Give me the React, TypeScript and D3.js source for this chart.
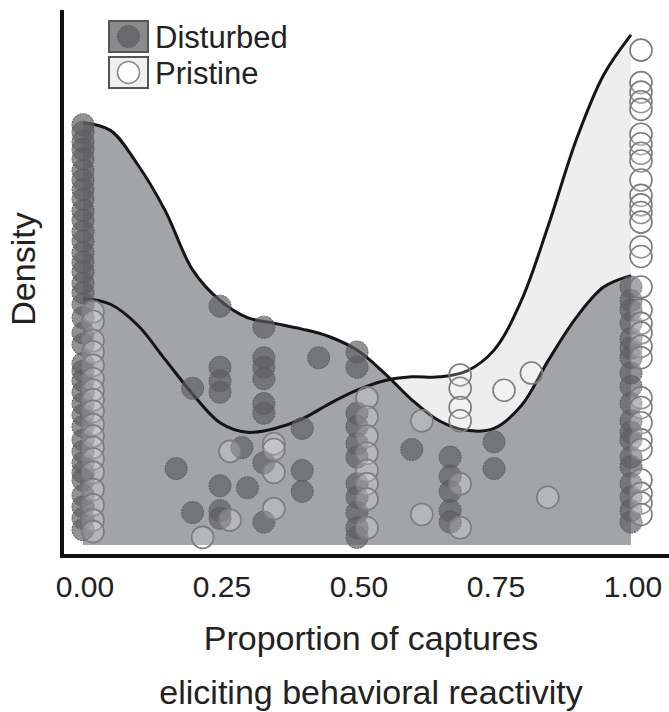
import React, { useEffect } from 'react';
import * as d3 from 'd3';

// density curves sampled along the proportion axis
const gridX = [0, 0.05, 0.1, 0.15, 0.2, 0.25, 0.3, 0.35, 0.4, 0.45, 0.5, 0.55, 0.6, 0.65, 0.7, 0.75, 0.8, 0.85, 0.9, 0.95, 1];
const disturbedDensity = [2.21, 2.17, 1.99, 1.75, 1.44, 1.28, 1.19, 1.16, 1.13, 1.09, 1.02, 0.9, 0.76, 0.65, 0.6, 0.61, 0.73, 0.97, 1.19, 1.35, 1.41];
const pristineDensity = [1.29, 1.26, 1.15, 0.97, 0.79, 0.64, 0.59, 0.61, 0.66, 0.74, 0.81, 0.86, 0.88, 0.88, 0.91, 1.02, 1.28, 1.68, 2.12, 2.46, 2.67];

// jittered captures: [proportion, height]
const disturbedPoints: [number, number][] = [
  ...[2.2, 2.16, 2.11, 2.07, 2.02, 1.96, 1.91, 1.86, 1.81, 1.75, 1.7, 1.64, 1.59, 1.53, 1.48, 1.43, 1.37, 1.32, 1.26, 1.19, 1.11, 1.05, 0.95, 0.91, 0.86, 0.8, 0.74, 0.68, 0.62, 0.55, 0.49, 0.43, 0.38, 0.34, 0.26, 0.2, 0.14, 0.08].map(v => [0, v] as [number, number]),
  [0.17, 0.4], [0.2, 0.82], [0.2, 0.17],
  [0.25, 1.25], [0.25, 0.93], [0.25, 0.86], [0.25, 0.8], [0.25, 0.31], [0.25, 0.18], [0.25, 0.14],
  [0.29, 0.51], [0.3, 0.3],
  [0.33, 1.14], [0.33, 0.98], [0.33, 0.93], [0.33, 0.87], [0.33, 0.74], [0.33, 0.69], [0.33, 0.43], [0.33, 0.12],
  [0.4, 0.61], [0.4, 0.39], [0.4, 0.28], [0.43, 0.98],
  [0.5, 1.01], [0.5, 0.93], [0.5, 0.69], [0.5, 0.62], [0.5, 0.53], [0.5, 0.46], [0.5, 0.32], [0.5, 0.25], [0.5, 0.17], [0.5, 0.09], [0.5, 0.04],
  [0.6, 0.5],
  [0.67, 0.46], [0.67, 0.36], [0.67, 0.28], [0.67, 0.18], [0.67, 0.12],
  [0.75, 0.54], [0.75, 0.4],
  ...[1.35, 1.28, 1.23, 1.16, 1.08, 1.03, 0.98, 0.9, 0.83, 0.74, 0.65, 0.59, 0.55, 0.46, 0.41, 0.32, 0.25, 0.18, 0.12].map(v => [1, v] as [number, number]),
];

const pristinePoints: [number, number][] = [
  ...[1.22, 1.17, 1.07, 1.01, 0.94, 0.87, 0.81, 0.76, 0.7, 0.63, 0.57, 0.51, 0.45, 0.38, 0.29, 0.21, 0.13, 0.07].map(v => [0, v] as [number, number]),
  [0.2, 0.04], [0.25, 0.49], [0.25, 0.13],
  [0.33, 0.53], [0.33, 0.5], [0.33, 0.38], [0.33, 0.19],
  [0.5, 0.77], [0.5, 0.67], [0.5, 0.57], [0.5, 0.48], [0.5, 0.39], [0.5, 0.32], [0.5, 0.24], [0.5, 0.09],
  [0.6, 0.65], [0.6, 0.16],
  [0.67, 0.89], [0.67, 0.82], [0.67, 0.72], [0.67, 0.65], [0.67, 0.32], [0.67, 0.09],
  [0.75, 0.81], [0.8, 0.9], [0.83, 0.25],
  ...[2.59, 2.42, 2.37, 2.32, 2.28, 2.15, 2.1, 2.05, 2.01, 1.91, 1.83, 1.78, 1.74, 1.69, 1.56, 1.51, 1.35, 1.23, 1.16, 1.11, 1.04, 0.98, 0.77, 0.72, 0.64, 0.55, 0.5, 0.34, 0.27, 0.22, 0.16].map(v => [1, v] as [number, number]),
];

const xTicks = [0, 0.25, 0.5, 0.75, 1];
const legendLabels = ['Disturbed', 'Pristine'];

const W = 669;
const H = 712;
const font = '"Liberation Sans", Arial, sans-serif';

export default function App() {
  useEffect(() => {
    document.body.style.margin = '0';
  }, []);

  const x = d3.scaleLinear().domain([0, 1]).range([83, 631]);
  const y = d3.scaleLinear().domain([0, 2.8]).range([545, 10]);

  const area = d3.area<number>()
    .x((_, i) => x(gridX[i]))
    .y0(y(0))
    .y1(d => y(d))
    .curve(d3.curveCatmullRom);
  const line = d3.line<number>()
    .x((_, i) => x(gridX[i]))
    .y(d => y(d))
    .curve(d3.curveCatmullRom);

  const dodge = 10; // pristine points sit a little to the right

  return (
    <svg width={W} height={H} style={{ display: 'block', background: '#fff' }} fontFamily={font}>
      {/* density fills */}
      <path d={area(pristineDensity) || ''} fill="#eeeeee" />
      <path d={area(disturbedDensity) || ''} fill="#a3a4a7" />
      <path d={line(pristineDensity) || ''} fill="none" stroke="#151515" strokeWidth={3} />
      <path d={line(disturbedDensity) || ''} fill="none" stroke="#151515" strokeWidth={3} />

      {/* points */}
      {disturbedPoints.map((p, i) => (
        <circle key={'d' + i} cx={x(p[0])} cy={y(p[1])} r={11}
          fill="#5e5f62" fillOpacity={0.68} stroke="#58595c" strokeWidth={1} strokeDasharray="2 1" />
      ))}
      {pristinePoints.map((p, i) => (
        <circle key={'p' + i} cx={x(p[0]) + dodge} cy={y(p[1])} r={11}
          fill="#ffffff" fillOpacity={0.2} stroke="#7c7c7e" strokeWidth={1.6} />
      ))}

      {/* axes */}
      <line x1={62} x2={62} y1={10} y2={558} stroke="#111" strokeWidth={4} />
      <line x1={60} x2={669} y1={556} y2={556} stroke="#111" strokeWidth={4} />
      {xTicks.map(t => (
        <text key={t} x={x(t) + 2} y={597} textAnchor="middle" fontSize={30} fill="#222">
          {d3.format('.2f')(t)}
        </text>
      ))}
      <text x={371} y={650} textAnchor="middle" fontSize={34} fill="#222">Proportion of captures</text>
      <text x={371} y={704} textAnchor="middle" fontSize={34} fill="#222">eliciting behavioral reactivity</text>
      <text transform="translate(35,269) rotate(-90)" textAnchor="middle" fontSize={34} fill="#222">Density</text>

      {/* legend */}
      {legendLabels.map((lab, i) => {
        const top = 21 + i * 36;
        const dist = i === 0;
        return (
          <g key={lab}>
            <rect x={109} y={top} width={39} height={31} fill={dist ? '#8b8b8d' : '#f0f0f0'} stroke="#555" strokeWidth={2} />
            <circle cx={128.5} cy={top + 15.5} r={11}
              fill={dist ? '#69696c' : '#ffffff'} stroke={dist ? '#5a5a5d' : '#8c8c8c'} strokeWidth={dist ? 1 : 1.6}
              strokeDasharray={dist ? '2 1' : undefined} />
            <text x={155} y={top + 27} fontSize={31} fill="#222">{lab}</text>
          </g>
        );
      })}
    </svg>
  );
}
